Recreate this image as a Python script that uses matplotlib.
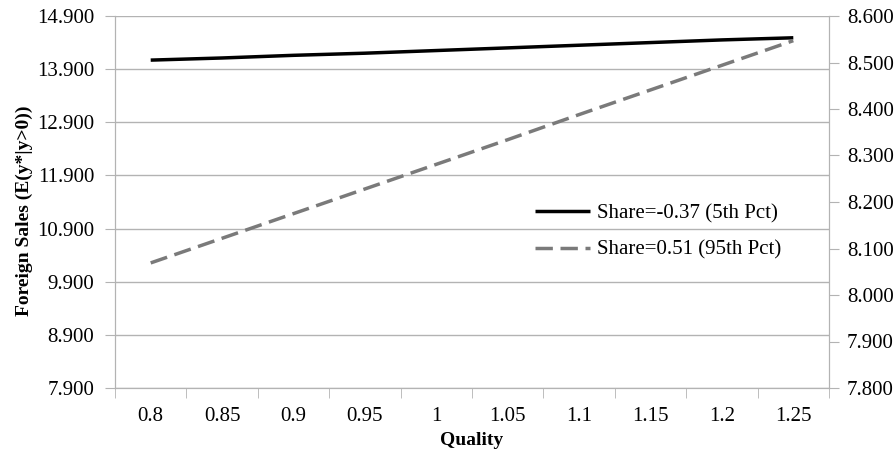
import matplotlib
matplotlib.use("Agg")
import matplotlib.pyplot as plt
import numpy as np

categories = ["0.8", "0.85", "0.9", "0.95", "1", "1.05", "1.1", "1.15", "1.2", "1.25"]
share_low = [14.07, 14.11, 14.16, 14.20, 14.25, 14.30, 14.35, 14.40, 14.45, 14.49]   # left axis
share_high = [8.069, 8.122, 8.175, 8.228, 8.281, 8.334, 8.388, 8.441, 8.494, 8.547]  # right axis
left_ticks = [7.9, 8.9, 9.9, 10.9, 11.9, 12.9, 13.9, 14.9]
right_ticks = [7.8, 7.9, 8.0, 8.1, 8.2, 8.3, 8.4, 8.5, 8.6]
label_low = "Share=-0.37 (5th Pct)"
label_high = "Share=0.51 (95th Pct)"

plt.rcParams['font.family'] = ['Liberation Serif', 'DejaVu Serif']
grid_c = "#b3b3b3"
fs = 15

fig = plt.figure(figsize=(8.95, 4.54), dpi=100)
ax = fig.add_axes([115/895, 1-388/454, (829-115)/895, (388-16)/454])
ax2 = ax.twinx()

x = np.arange(len(categories))
l1, = ax.plot(x, share_low, color="black", lw=2.5, solid_capstyle="butt")
l2, = ax2.plot(x, share_high, color="#7a7a7a", lw=2.5, dashes=(5, 2.2))

ax.set_xlim(-0.5, len(categories) - 0.5)
ax.set_ylim(7.9, 14.9)
ax2.set_ylim(7.8, 8.6)
ax.set_yticks(left_ticks)
ax.set_yticklabels([f"{v:.3f}" for v in left_ticks])
ax2.set_yticks(right_ticks)
ax2.set_yticklabels([f"{v:.3f}" for v in right_ticks])
ax.set_xticks(x)
ax.set_xticklabels(categories)
ax.set_xticks(np.arange(len(categories) + 1) - 0.5, minor=True)

ax.grid(axis="y", color=grid_c, lw=1)
ax.set_axisbelow(True)
for a in (ax, ax2):
    for s in a.spines.values():
        s.set_color(grid_c)
    a.spines["top"].set_visible(False)
ax.tick_params(axis="x", which="major", length=0, pad=14, labelsize=fs)
ax.tick_params(axis="x", which="minor", length=7, color=grid_c, direction="out")
ax.tick_params(axis="y", length=7, color=grid_c, labelsize=fs, pad=8)
ax2.tick_params(axis="y", length=7, color=grid_c, labelsize=fs, pad=6)

ax.set_xlabel("Quality", fontweight="bold", fontsize=14, labelpad=4)
ax.set_ylabel("Foreign Sales (E(y*|y>0))", fontweight="bold", fontsize=14)
ax.yaxis.set_label_coords((33-115)/714, 1-(211-16)/372)

ax2.legend([l1, l2], [label_low, label_high], loc="upper left",
           bbox_to_anchor=((535-115)/714, 1-(204-16)/372), frameon=False,
           fontsize=fs, handlelength=2.65, handletextpad=0.33, labelspacing=0.8,
           borderpad=0, borderaxespad=0)

fig.savefig("out.png", dpi=100)
